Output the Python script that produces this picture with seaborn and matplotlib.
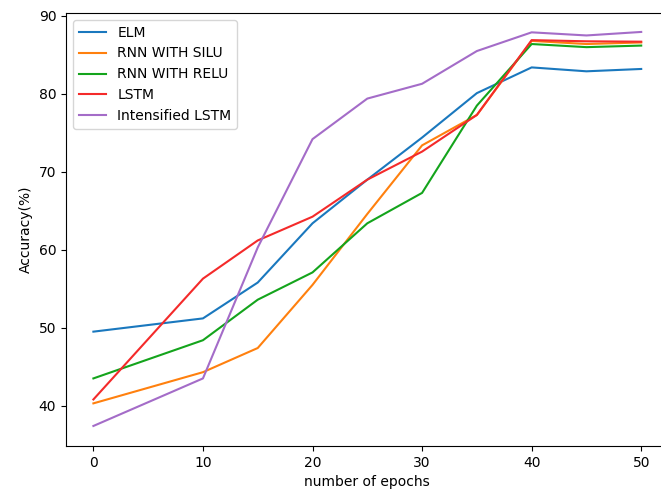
import matplotlib
matplotlib.use("Agg")
import matplotlib.pyplot as plt
import seaborn as sns
import pandas as pd

epochs = [0, 10, 15, 20, 25, 30, 35, 40, 45, 50]
elm = [49.5, 51.2, 55.8, 63.4, 69.0, 74.4, 80.1, 83.4, 82.9, 83.2]
rnn_silu = [40.3, 44.3, 47.4, 55.5, 64.6, 73.4, 77.3, 86.8, 86.4, 86.6]
rnn_relu = [43.5, 48.4, 53.6, 57.1, 63.4, 67.3, 78.5, 86.4, 86.0, 86.2]
lstm = [40.8, 56.3, 61.2, 64.25, 69.0, 72.6, 77.3, 86.9, 86.75, 86.7]
intensified_lstm = [37.4, 43.5, 60.3, 74.2, 79.4, 81.3, 85.5, 87.9, 87.5, 87.95]

series = [
    ("ELM", elm),
    ("RNN WITH SILU", rnn_silu),
    ("RNN WITH RELU", rnn_relu),
    ("LSTM", lstm),
    ("Intensified LSTM", intensified_lstm),
]
colors = ["#1a78be", "#ff800e", "#14a41c", "#f42a2a", "#a46cc8"]

fig = plt.figure(figsize=(6.61, 4.93), dpi=100)
ax = fig.add_axes([66 / 661, (493 - 446) / 493, 602.6 / 661, (446 - 13) / 493])

for (name, vals), c in zip(series, colors):
    df = pd.DataFrame({"epoch": epochs, "acc": vals})
    sns.lineplot(data=df, x="epoch", y="acc", ax=ax, label=name, color=c, linewidth=1.5)

ax.set_xlabel("number of epochs")
ax.set_ylabel("Accuracy(%)")
ax.set_xticks([0, 10, 20, 30, 40, 50])
ax.set_yticks([40, 50, 60, 70, 80, 90])
ax.set_xlim(-2.5, 52.5)
ax.set_ylim(34.83, 90.38)
ax.spines["right"].set_visible(False)
ax.legend(loc="upper left")

fig.savefig("out.png", dpi=100)
